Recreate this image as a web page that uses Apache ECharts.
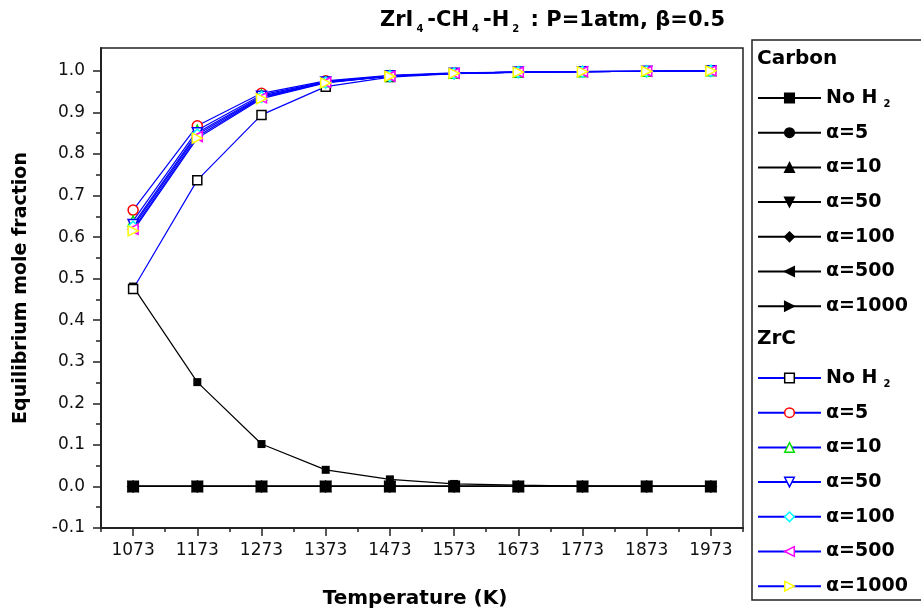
<!DOCTYPE html>
<html>
<head>
<meta charset="utf-8">
<script src="https://cdn.jsdelivr.net/npm/echarts@6/dist/echarts.min.js"></script>
<style>html,body{margin:0;padding:0;background:#fff}#c{width:921px;height:614px}</style>
</head>
<body>
<div id="c"></div>
<script>
// ---- data ----
var temps = [1073, 1173, 1273, 1373, 1473, 1573, 1673, 1773, 1873, 1973];
var xTickLabels = [1073, 1173, 1273, 1373, 1473, 1573, 1673, 1773, 1873, 1973];
var xMinorTicks = [1023, 1123, 1223, 1323, 1423, 1523, 1623, 1723, 1823, 1923, 2023];
var yTickLabels = [-0.1, 0.0, 0.1, 0.2, 0.3, 0.4, 0.5, 0.6, 0.7, 0.8, 0.9, 1.0];
var yMinorTicks = [-0.05, 0.05, 0.15, 0.25, 0.35, 0.45, 0.55, 0.65, 0.75, 0.85, 0.95];

var carbonNoH2  = [0.481, 0.251, 0.102, 0.040, 0.017, 0.006, 0.003, 0.001, 0.000, 0.000];
var carbonA5    = [0, 0, 0, 0, 0, 0, 0, 0, 0, 0];
var carbonA10   = [0, 0, 0, 0, 0, 0, 0, 0, 0, 0];
var carbonA50   = [0, 0, 0, 0, 0, 0, 0, 0, 0, 0];
var carbonA100  = [0, 0, 0, 0, 0, 0, 0, 0, 0, 0];
var carbonA500  = [0, 0, 0, 0, 0, 0, 0, 0, 0, 0];
var carbonA1000 = [0, 0, 0, 0, 0, 0, 0, 0, 0, 0];

var zrcNoH2  = [0.475, 0.737, 0.894, 0.962, 0.985, 0.993, 0.996, 0.998, 0.999, 1.000];
var zrcA5    = [0.665, 0.868, 0.946, 0.976, 0.989, 0.995, 0.997, 0.998, 0.999, 1.000];
var zrcA10   = [0.639, 0.857, 0.942, 0.974, 0.988, 0.994, 0.997, 0.998, 0.999, 1.000];
var zrcA50   = [0.630, 0.851, 0.939, 0.973, 0.988, 0.994, 0.997, 0.998, 0.999, 1.000];
var zrcA100  = [0.625, 0.847, 0.937, 0.972, 0.987, 0.994, 0.997, 0.998, 0.999, 1.000];
var zrcA500  = [0.619, 0.842, 0.935, 0.972, 0.987, 0.994, 0.997, 0.998, 0.999, 1.000];
var zrcA1000 = [0.615, 0.838, 0.933, 0.971, 0.987, 0.994, 0.997, 0.998, 0.999, 1.000];

var seriesLabels = ['No H2', '\u03b1=5', '\u03b1=10', '\u03b1=50', '\u03b1=100', '\u03b1=500', '\u03b1=1000'];
var carbonData = [carbonNoH2, carbonA5, carbonA10, carbonA50, carbonA100, carbonA500, carbonA1000];
var zrcData = [zrcNoH2, zrcA5, zrcA10, zrcA50, zrcA100, zrcA500, zrcA1000];

// ---- styles ----
var FONT = 'DejaVu Sans';
var symbols = ['rect', 'circle', 'triangle', 'triangle', 'diamond', 'triangle', 'triangle'];
var rotates = [0, 0, 0, 180, 0, 90, -90];
var carbonSizes = [8, 10, 12, 12, 13, 12, 12];
var zrcSizes = [9, 10, 10, 10, 11, 10, 10];
var zrcColors = ['#000000', '#ff0000', '#00dd00', '#0000ff', '#00ffff', '#ff00ff', '#ffff00'];

function pairs(arr) { return temps.map(function (t, i) { return [t, arr[i]]; }); }

var series = [];
var carbonNames = [], zrcNames = [], displayMap = {};
seriesLabels.forEach(function (lab, i) {
  var nm = 'Carbon ' + lab;
  carbonNames.push(nm); displayMap[nm] = lab;
  series.push({
    name: nm, type: 'line', data: pairs(carbonData[i]),
    symbol: symbols[i], symbolRotate: rotates[i], symbolSize: carbonSizes[i],
    lineStyle: { color: '#000', width: 1.2 },
    itemStyle: { color: '#000', borderColor: '#000', borderWidth: 0 },
    emphasis: { disabled: true }, animation: false
  });
});
seriesLabels.forEach(function (lab, i) {
  var nm = 'ZrC ' + lab;
  zrcNames.push(nm); displayMap[nm] = lab;
  series.push({
    name: nm, type: 'line', data: pairs(zrcData[i]),
    symbol: symbols[i], symbolRotate: rotates[i], symbolSize: zrcSizes[i],
    lineStyle: { color: '#0000ff', width: 1.2 },
    itemStyle: { color: '#fff', borderColor: zrcColors[i], borderWidth: 1.5 },
    emphasis: { disabled: true }, animation: false
  });
});

function legendFmt(name) {
  var lab = displayMap[name];
  if (lab === 'No H2') return '{n|No H}{s|2}';
  return '{n|' + lab + '}';
}
var legendText = {
  fontFamily: FONT, fontSize: 19, fontWeight: 'bold', color: '#000', lineHeight: 22,
  rich: {
    n: { fontFamily: FONT, fontSize: 19, fontWeight: 'bold', color: '#000', lineHeight: 22 },
    s: { fontFamily: FONT, fontSize: 10, fontWeight: 'bold', color: '#000', lineHeight: 22, padding: [12, 0, 0, 6] }
  }
};
function makeLegend(names, top) {
  return {
    data: names, orient: 'vertical', left: 757, top: top, padding: 0,
    itemWidth: 63, itemHeight: 12, itemGap: 12.7, selectedMode: false,
    formatter: legendFmt, textStyle: legendText,
    lineStyle: { width: 2 }, itemStyle: { borderWidth: 1.5 }
  };
}

var option = {
  backgroundColor: '#fff',
  animation: false,
  title: [
    {
      text: '{n|ZrI}{s|4}{n|-CH}{s|4}{n|-H}{s|2}{n| : P=1atm, \u03b2=0.5}',
      left: 380, top: 7, padding: 0,
      textStyle: {
        fontFamily: FONT, fontSize: 21, fontWeight: 'bold', lineHeight: 28,
        rich: {
          n: { fontFamily: FONT, fontSize: 21, fontWeight: 'bold', color: '#000', lineHeight: 28 },
          s: { fontFamily: FONT, fontSize: 10, fontWeight: 'bold', color: '#000', lineHeight: 28, padding: [16, 4, 0, 3] }
        }
      }
    },
    { text: 'Carbon', left: 757, top: 49, padding: 0,
      textStyle: { fontFamily: FONT, fontSize: 20, fontWeight: 'bold', color: '#000' } },
    { text: 'ZrC', left: 757, top: 329, padding: 0,
      textStyle: { fontFamily: FONT, fontSize: 20, fontWeight: 'bold', color: '#000' } }
  ],
  legend: [makeLegend(carbonNames, 87), makeLegend(zrcNames, 367)],
  grid: { left: 101, top: 48, width: 642, height: 482, show: true, borderColor: '#222', borderWidth: 1.5, backgroundColor: 'transparent' },
  xAxis: [
    {
      type: 'value', min: 1023, max: 2023, gridIndex: 0,
      name: 'Temperature (K)', nameLocation: 'middle', nameGap: 61,
      nameTextStyle: { fontFamily: FONT, fontSize: 20, fontWeight: 'bold', color: '#000', padding: [0, 14, 0, 0] },
      axisLine: { show: true, onZero: false, lineStyle: { color: '#222', width: 2 } },
      axisTick: { show: true, length: 8, customValues: xTickLabels, lineStyle: { color: '#222', width: 1.5 } },
      axisLabel: { customValues: xTickLabels, fontFamily: FONT, fontSize: 17, color: '#111', margin: 14,
        formatter: function (v) { return String(v); } },
      splitLine: { show: false }
    },
    {
      type: 'value', min: 1023, max: 2023, gridIndex: 0, position: 'bottom',
      axisLine: { show: false, onZero: false },
      axisTick: { show: true, length: 4, customValues: xMinorTicks, lineStyle: { color: '#222', width: 1.5 } },
      axisLabel: { show: false }, splitLine: { show: false }
    }
  ],
  yAxis: [
    {
      type: 'value', min: -0.1, max: 1.055, gridIndex: 0,
      name: 'Equilibrium mole fraction', nameLocation: 'middle', nameGap: 70,
      nameTextStyle: { fontFamily: FONT, fontSize: 19, fontWeight: 'bold', color: '#000' },
      axisLine: { show: true, onZero: false, lineStyle: { color: '#222', width: 2 } },
      axisTick: { show: true, length: 8, customValues: yTickLabels, lineStyle: { color: '#222', width: 1.5 } },
      axisLabel: { customValues: yTickLabels, fontFamily: FONT, fontSize: 17, color: '#111', margin: 16,
        formatter: function (v) { return v.toFixed(1); } },
      splitLine: { show: false }
    },
    {
      type: 'value', min: -0.1, max: 1.055, gridIndex: 0, position: 'left',
      axisLine: { show: false, onZero: false },
      axisTick: { show: true, length: 5, customValues: yMinorTicks, lineStyle: { color: '#222', width: 1.5 } },
      axisLabel: { show: false }, splitLine: { show: false }
    }
  ],
  graphic: [
    { type: 'rect', shape: { x: 752, y: 40, width: 180, height: 560 }, style: { fill: 'none', stroke: '#222', lineWidth: 1.5 }, silent: true }
  ],
  series: series
};

var chart = echarts.init(document.getElementById('c'), null, { renderer: 'canvas' });
chart.setOption(option);
</script>
</body>
</html>
